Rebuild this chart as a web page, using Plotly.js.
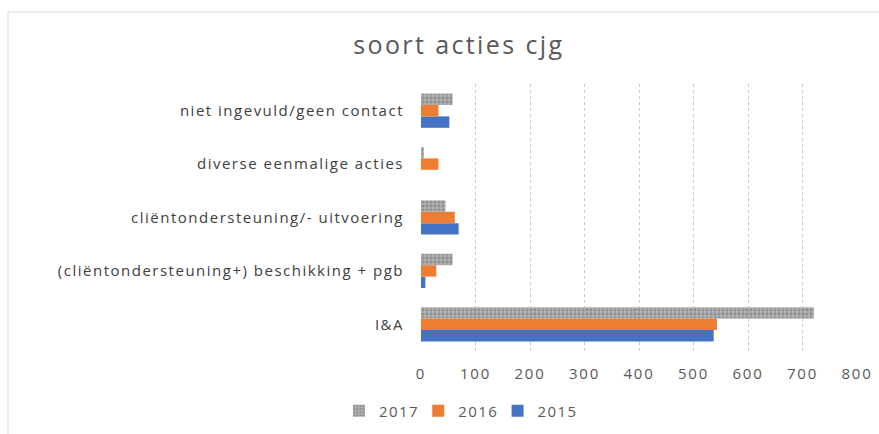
<!DOCTYPE html>
<html>
<head>
<meta charset="utf-8">
<script src="https://cdn.plot.ly/plotly-3.0.1.min.js"></script>
<style>
html,body{margin:0;padding:0;background:#fff;}
#chart{width:879px;height:434px;}
#chart .ytick text {letter-spacing:1.5px;}
#chart .xtick text {letter-spacing:1.8px;}
#chart .gtitle {letter-spacing:2.4px;}
#chart .legendtext {letter-spacing:1.4px;}
</style>
</head>
<body>
<div id="chart"></div>
<script>
const categories = ["I&A", "(cliëntondersteuning+) beschikking + pgb", "cliëntondersteuning/- uitvoering", "diverse eenmalige acties", "niet ingevuld/geen contact"];
const values2015 = [537, 8, 69, 0, 52];
const values2016 = [543, 28, 62, 32, 32];
const values2017 = [721, 58, 45, 5, 58];
const xTicks = [0, 100, 200, 300, 400, 500, 600, 700, 800];

const traces = [
  {type: 'bar', orientation: 'h', name: '2015', y: categories, x: values2015,
   marker: {color: '#4472c4'}},
  {type: 'bar', orientation: 'h', name: '2016', y: categories, x: values2016,
   marker: {color: '#ed7d31'}},
  {type: 'bar', orientation: 'h', name: '2017', y: categories, x: values2017,
   marker: {color: '#a5a5a5', pattern: {shape: '.', fgcolor: '#8f8f8f', bgcolor: '#b0b0b0', size: 4, solidity: 0.4}}}
];

const layout = {
  width: 879, height: 434,
  margin: {l: 421, r: 22, t: 84, b: 83},
  paper_bgcolor: '#fff', plot_bgcolor: '#fff',
  font: {family: 'Open Sans, sans-serif', size: 15, color: '#595959'},
  barmode: 'group', bargap: 0.36, bargroupgap: 0,
  title: {text: 'soort acties cjg', font: {family: 'Open Sans, sans-serif', size: 25, color: '#595959'},
          x: 0.522, xref: 'container', xanchor: 'center', y: 0.896, yref: 'container', yanchor: 'middle'},
  xaxis: {range: [0, 800], tickvals: xTicks, showgrid: true, gridcolor: '#c8c8c8', griddash: 'dot', gridwidth: 1,
          zeroline: false, showline: false, ticks: '', ticklabelstandoff: 12, tickfont: {size: 15, color: '#595959'}, fixedrange: true},
  yaxis: {type: 'category', categoryorder: 'array', categoryarray: categories, showgrid: false, zeroline: false,
          showline: false, ticks: '', ticklabelstandoff: 16, tickfont: {size: 15, color: '#404040'}},
  showlegend: true,
  legend: {orientation: 'h', traceorder: 'reversed', xref: 'container', yref: 'container',
           x: 0.521, xanchor: 'center', y: 0.053, yanchor: 'middle',
           font: {size: 15, color: '#595959'}, itemwidth: 30},
  shapes: [
    {type: 'line', xref: 'paper', yref: 'paper', x0: (8-421)/436, x1: (879-421)/436, y0: (351-12)/267, y1: (351-12)/267,
     line: {color: '#d9d9d9', width: 1}},
    {type: 'line', xref: 'paper', yref: 'paper', x0: (8-421)/436, x1: (8-421)/436, y0: (351-12)/267, y1: (351-434)/267,
     line: {color: '#d9d9d9', width: 1}}
  ]
};

Plotly.newPlot('chart', traces, layout, {displayModeBar: false, staticPlot: true});
</script>
</body>
</html>
